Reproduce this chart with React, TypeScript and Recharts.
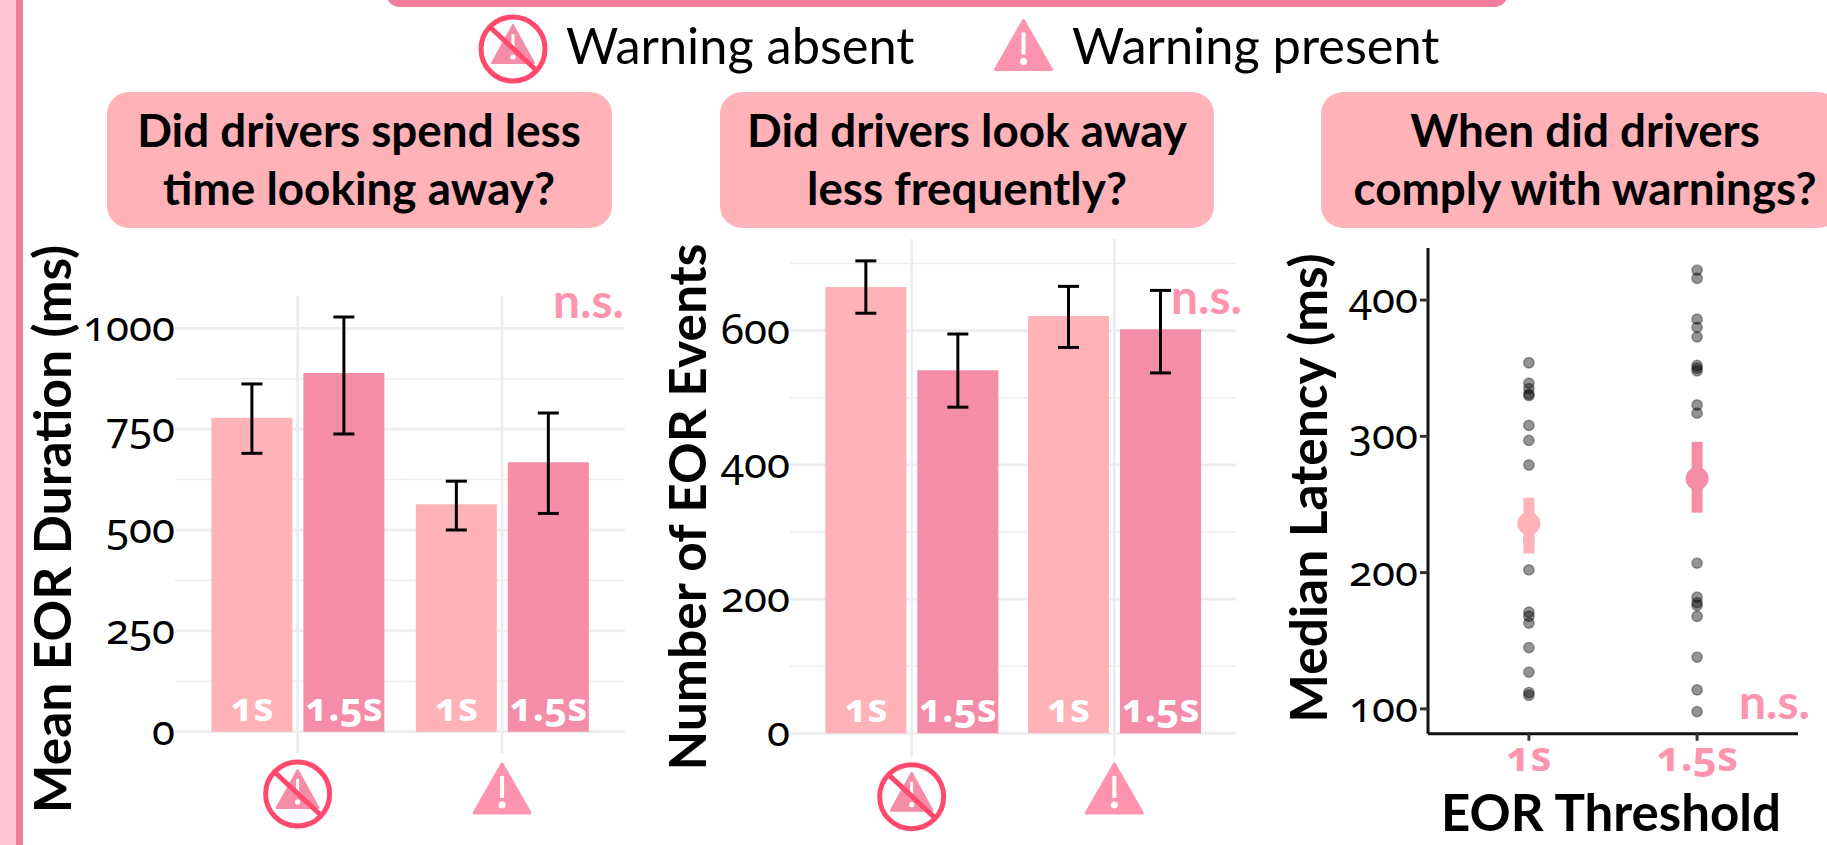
import React from "react";
import {
  BarChart, Bar, XAxis, YAxis, CartesianGrid, ErrorBar, LabelList,
  ScatterChart, Scatter,
} from "recharts";

const FONT = "Lato, 'Open Sans', sans-serif";
const NUM_FONT = "'Noto Sans', 'Open Sans', Lato, sans-serif";
const LIGHT = "#FFB3B8";
const DARK = "#F58CA8";
const NS = "#FF94AE";
const STRIPE = "#F27C9B";
const GRID = "#EDEDED";

const thresholds = ["1s", "1.5s"];
const groups = ["absent", "present"];

// Panel 1: mean EOR duration
const durVal1 = [778, 564];
const durLo1 = [690, 500];
const durHi1 = [862, 621];
const durVal2 = [889, 668];
const durLo2 = [738, 541];
const durHi2 = [1028, 790];
const durMajor = [0, 250, 500, 750, 1000];
const durMinor = [125, 375, 625, 875];

// Panel 2: number of EOR events
const numVal1 = [665, 622];
const numLo1 = [626, 575];
const numHi1 = [704, 666];
const numVal2 = [541, 602];
const numLo2 = [486, 537];
const numHi2 = [595, 660];
const numMajor = [0, 200, 400, 600];
const numMinor = [100, 300, 500, 700];

// Panel 3: median latency
const lat1s = [354, 339, 335, 331, 330, 308, 297, 279, 224, 202, 171, 168, 163, 145, 127, 112, 110];
const lat15s = [422, 416, 386, 380, 373, 352, 350, 348, 323, 317, 207, 182, 178, 176, 168, 138, 114, 98];
const latMedians = [236, 269];
const latLow = [214, 244];
const latHigh = [255, 296];
const latTicks = [100, 200, 300, 400];

const table = (v1: number[], l1: number[], h1: number[], v2: number[], l2: number[], h2: number[]) =>
  groups.map((g, i) => ({
    g,
    a: v1[i],
    aErr: [v1[i] - l1[i], h1[i] - v1[i]],
    b: v2[i],
    bErr: [v2[i] - l2[i], h2[i] - v2[i]],
  }));

function NoWarn({ cx, cy }: { cx: number; cy: number }) {
  return (
    <g>
      <path d={`M${cx} ${cy - 24} L${cx + 21} ${cy + 14} L${cx - 21} ${cy + 14} Z`} fill={DARK} stroke={DARK} strokeWidth={2} strokeLinejoin="round" />
      <line x1={cx} y1={cy - 15} x2={cx} y2={cy + 2} stroke="#fff" strokeWidth={3} />
      <circle cx={cx} cy={cy + 8} r={2.6} fill="#fff" />
      <circle cx={cx} cy={cy} r={32} fill="none" stroke="#FF4A6E" strokeWidth={5} />
      <line x1={cx - 22} y1={cy - 21} x2={cx + 23} y2={cy + 21} stroke="#FF4A6E" strokeWidth={5} />
    </g>
  );
}

function Warn({ cx, cy }: { cx: number; cy: number }) {
  return (
    <g>
      <path d={`M${cx} ${cy - 25} L${cx + 28} ${cy + 24} L${cx - 28} ${cy + 24} Z`} fill={NS} stroke={NS} strokeWidth={3} strokeLinejoin="round" />
      <line x1={cx} y1={cy - 13} x2={cx} y2={cy + 9} stroke="#fff" strokeWidth={4} />
      <circle cx={cx} cy={cy + 16} r={3.5} fill="#fff" />
    </g>
  );
}

type PanelProps = {
  rows: any[];
  domain: [number, number];
  major: number[];
  minor: number[];
  plotL: number;
  plotR: number;
  plotT: number;
  plotB: number;
  title: string;
  titleX: number;
  titleY: number;
  pad: number;
  noWarnY: number;
};

function BarPanel({ rows, domain, major, minor, plotL, plotR, plotT, plotB, title, titleX, titleY, pad, noWarnY }: PanelProps) {
  const yw = 172;
  const top = 200;
  const left = plotL - yw;
  const width = yw + plotR - plotL;
  const height = 845 - top;
  const iconTick = (p: any) =>
    p.index === 0 ? <NoWarn cx={p.x} cy={noWarnY - top} /> : <Warn cx={p.x} cy={789 - top} />;
  return (
    <div style={{ position: "absolute", left, top, width, height }}>
      <BarChart width={width} height={height} data={rows} margin={{ top: plotT - top, right: 0, bottom: 0, left: 0 }} barSize={81} barGap={11} style={{ overflow: "visible" }}>
        <CartesianGrid horizontal horizontalValues={minor} vertical={false} stroke={GRID} strokeWidth={1.6} />
        <CartesianGrid horizontal horizontalValues={major} vertical syncWithTicks stroke={GRID} strokeWidth={2.8} />
        <XAxis dataKey="g" height={845 - plotB} axisLine={false} tickLine={false} padding={{ left: pad, right: pad }} tick={iconTick} interval={0} />
        <YAxis
          type="number"
          width={yw}
          domain={domain}
          ticks={major}
          interval={0}
          allowDataOverflow
          axisLine={false}
          tickLine={false}
          tickMargin={0}
          tickSize={0}
          tick={{ fill: "#000", fontSize: 42, dy: -2, fontFamily: NUM_FONT }}
          label={{
            value: title,
            content: () => (
              <text transform={`translate(${titleX - left},${titleY - top}) rotate(-90)`} textAnchor="middle" fontSize={51.5} fontWeight={700} fill="#000">
                {title}
              </text>
            ),
          }}
        />
        <Bar dataKey="a" fill={LIGHT} isAnimationActive={false}>
          <ErrorBar dataKey="aErr" direction="y" width={10.5} stroke="#000" strokeWidth={3} isAnimationActive={false} />
          <LabelList dataKey="a" position="insideBottom" offset={11} formatter={() => thresholds[0]} fill="#fff" fontSize={40} fontWeight={700} fontFamily={NUM_FONT} />
        </Bar>
        <Bar dataKey="b" fill={DARK} isAnimationActive={false}>
          <ErrorBar dataKey="bErr" direction="y" width={10.5} stroke="#000" strokeWidth={3} isAnimationActive={false} />
          <LabelList dataKey="b" position="insideBottom" offset={11} formatter={() => thresholds[1]} fill="#fff" fontSize={40} fontWeight={700} fontFamily={NUM_FONT} />
        </Bar>
      </BarChart>
    </div>
  );
}

const dotShape = (p: any) => (
  <circle cx={p.cx} cy={p.cy} r={5.2} fill="#000" fillOpacity={0.42} stroke="#000" strokeOpacity={0.35} strokeWidth={1.4} />
);
const medianShape = (color: string) => (p: any) => <circle cx={p.cx} cy={p.cy} r={11.5} fill={color} />;

function LatencyPanel() {
  const left = 1230, top = 238, yw = 198, width = 568, height = 607;
  const d1 = lat1s.map((y) => ({ x: 1, y }));
  const d2 = lat15s.map((y) => ({ x: 2, y }));
  const med = (i: number) => [{ x: i + 1, y: latMedians[i], err: [latMedians[i] - latLow[i], latHigh[i] - latMedians[i]] }];
  const title = "Median Latency (ms)";
  return (
    <div style={{ position: "absolute", left, top, width, height }}>
      <ScatterChart width={width} height={height} margin={{ top: 10, right: 0, bottom: 0, left: 0 }} style={{ overflow: "visible" }}>
        <XAxis
          type="number"
          dataKey="x"
          domain={[0.4, 2.6]}
          ticks={[1, 2]}
          interval={0}
          allowDataOverflow
          height={111.3}
          tickFormatter={(v: number) => thresholds[v - 1]}
          axisLine={{ stroke: "#111", strokeWidth: 3 }}
          tickLine={{ stroke: "#333", strokeWidth: 3 }}
          tickSize={7}
          tickMargin={0}
          tick={{ fill: NS, fontSize: 42, fontWeight: 700, fontFamily: NUM_FONT }}
          label={{
            value: "EOR Threshold",
            content: () => (
              <text x={1611 - left} y={831 - top} textAnchor="middle" fontSize={51} fontWeight={700} fill="#000">EOR Threshold</text>
            ),
          }}
        />
        <YAxis
          type="number"
          dataKey="y"
          width={yw}
          domain={[81.8, 438.2]}
          ticks={latTicks}
          interval={0}
          allowDataOverflow
          axisLine={{ stroke: "#111", strokeWidth: 3 }}
          tickLine={{ stroke: "#333", strokeWidth: 3 }}
          tickSize={8}
          tickMargin={2}
          tick={{ fill: "#000", fontSize: 42, dy: -2, fontFamily: NUM_FONT }}
          label={{
            value: title,
            content: () => (
              <text transform={`translate(${1327 - left},${488 - top}) rotate(-90)`} textAnchor="middle" fontSize={51.5} fontWeight={700} fill="#000">
                {title}
              </text>
            ),
          }}
        />
        <Scatter data={d1} shape={dotShape} isAnimationActive={false} />
        <Scatter data={d2} shape={dotShape} isAnimationActive={false} />
        <Scatter data={med(0)} shape={medianShape(LIGHT)} isAnimationActive={false}>
          <ErrorBar dataKey="err" direction="y" width={0} stroke={LIGHT} strokeWidth={11} isAnimationActive={false} zIndex={900} />
        </Scatter>
        <Scatter data={med(1)} shape={medianShape(DARK)} isAnimationActive={false}>
          <ErrorBar dataKey="err" direction="y" width={0} stroke={DARK} strokeWidth={11} isAnimationActive={false} zIndex={900} />
        </Scatter>
      </ScatterChart>
    </div>
  );
}

function TitleBox({ l, r }: { l: number; r: number }) {
  return (
    <div style={{ position: "absolute", left: l, width: r - l, top: 92, height: 136, background: LIGHT, borderRadius: 22 }} />
  );
}

export default function App() {
  const titles = [
    { l: 107, r: 612, cx: 359, lines: ["Did drivers spend less", "time looking away?"] },
    { l: 720, r: 1214, cx: 967, lines: ["Did drivers look away", "less frequently?"] },
    { l: 1321, r: 1840, cx: 1585, lines: ["When did drivers", "comply with warnings?"] },
  ];
  const durRows = table(durVal1, durLo1, durHi1, durVal2, durLo2, durHi2);
  const numRows = table(numVal1, numLo1, numHi1, numVal2, numLo2, numHi2);
  return (
    <div style={{ position: "absolute", left: 0, top: 0, width: 1827, height: 845, overflow: "hidden", background: "#fff", fontFamily: FONT, fontVariantNumeric: "oldstyle-nums", fontFeatureSettings: '"onum"' }}>
      <div style={{ position: "absolute", left: 0, top: 0, width: 16, height: 845, background: "#FFC7D5" }} />
      <div style={{ position: "absolute", left: 16, top: 0, width: 7, height: 845, background: STRIPE }} />
      <div style={{ position: "absolute", left: 386, top: -30, width: 1122, height: 37, background: STRIPE, borderRadius: 14 }} />
      {titles.map((t) => <TitleBox key={t.l} l={t.l} r={t.r} />)}

      <BarPanel rows={durRows} domain={[-52.8, 1080]} major={durMajor} minor={durMinor} plotL={175.3} plotR={625} plotT={296} plotB={753}
        title="Mean EOR Duration (ms)" titleX={71} titleY={529} pad={20.4} noWarnY={794} />
      <BarPanel rows={numRows} domain={[-34.9, 736.6]} major={numMajor} minor={numMinor} plotL={790} plotR={1236} plotT={239} plotB={756.7}
        title="Number of EOR Events" titleX={706} titleY={507} pad={20.35} noWarnY={796.7} />
      <LatencyPanel />

      <svg width={1827} height={845} style={{ position: "absolute", left: 0, top: 0, pointerEvents: "none" }}>
        <NoWarn cx={513} cy={49} />
        <Warn cx={1023.5} cy={45.5} />
        <text x={566} y={64} fontSize={50.5} fill="#000">Warning absent</text>
        <text x={1072} y={64} fontSize={50.5} fill="#000">Warning present</text>
        {titles.map((t) => t.lines.map((s, i) => (
          <text key={s} x={t.cx} y={147 + i * 58} textAnchor="middle" fontSize={45.8} fontWeight={700} fill="#000">{s}</text>
        )))}
        <text x={553} y={318} fontSize={48} fontWeight={700} fill={NS}>n.s.</text>
        <text x={1171} y={314} fontSize={48} fontWeight={700} fill={NS}>n.s.</text>
        <text x={1739} y={719} fontSize={48} fontWeight={700} fill={NS}>n.s.</text>
      </svg>
    </div>
  );
}
